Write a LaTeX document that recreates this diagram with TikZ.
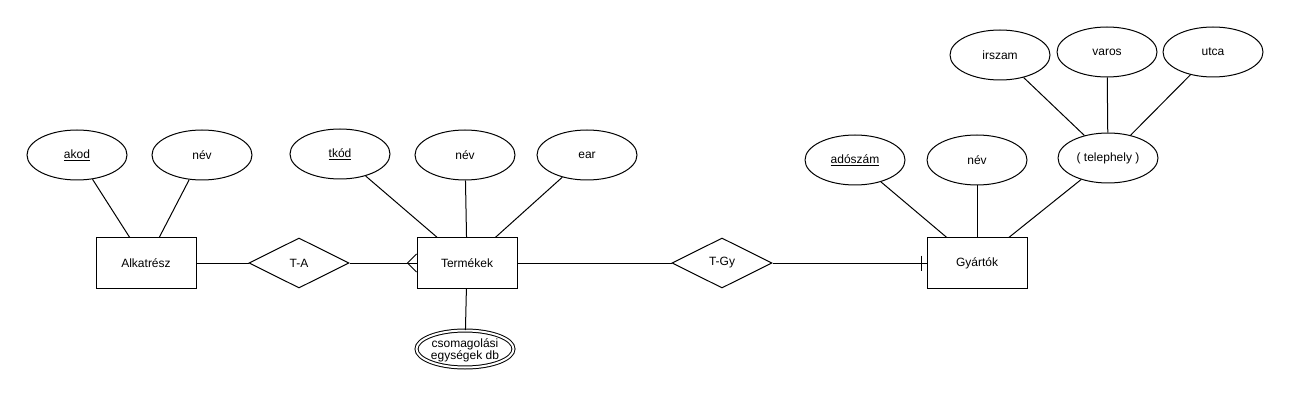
\documentclass[tikz,border=0pt]{standalone}
\usepackage{fontspec}
\setmainfont{Liberation Sans}
\usepackage{tikz}
\usetikzlibrary{calc}
\usetikzlibrary{shapes}
\tikzstyle{every node}=[font=\fontsize{12}{14}\selectfont]
\tikzstyle{ent}=[draw,rectangle,minimum width=100pt,minimum height=50pt,inner sep=0pt]
\tikzstyle{rel}=[draw,diamond,shape aspect=2,minimum width=100pt,minimum height=50pt,inner sep=0pt]
\tikzstyle{attr}=[draw,ellipse,minimum width=100pt,minimum height=50pt,inner sep=0pt]
\tikzstyle{mattr}=[draw,ellipse,double,double distance=2pt,minimum width=97pt,minimum height=37pt,inner sep=-3pt,align=center,text depth=0pt,font=\fontsize{12}{12.5}\selectfont]

\begin{document}
\begin{tikzpicture}[x=1pt,y=-1pt,line width=1pt]
	\useasboundingbox (0,0) rectangle (1289,403);
	\node[ent] (alk) at (146,263) {Alkatrész};
	\node[ent] (ter) at (467,263) {Termékek};
	\node[ent] (gy) at (977,263) {Gyártók};
	\node[rel] (ta) at (299,263) {T-A};
	\node[rel] (tgy) at (722,263) {T-Gy};
		\node[attr] (akod) at (77,155) {\underline{akod}};
		\node[attr] (anev) at (202,155) {név};
		\node[attr] (tkod) at (340,154) {\underline{tkód}};
		\node[attr] (tnev) at (465,155) {név};
		\node[attr] (ear) at (587,155) {ear};
		\node[mattr] (csom) at (465,349) {csomagolási\\egységek db};
		\node[attr] (adosz) at (855,160) {\underline{adószám}};
		\node[attr] (gnev) at (977,160) {név};
		\node[attr] (tel) at (1108,158) {( telephely )};
		\node[attr] (irsz) at (1000,55) {irszam};
		\node[attr] (var) at (1107,52) {varos};
		\node[attr] (utca) at (1213,52) {utca};
	\path
		(akod)	edge	(alk)
		(anev)	edge	(alk)
		(tkod)	edge	(ter)
		(tnev)	edge	(ter)
		(ear)	edge	(ter)
		(ter)	edge	(csom)
		(adosz)	edge	(gy)
		(gnev)	edge	(gy)
		(tel)	edge	(gy)
		(irsz)	edge	(tel)
		(var)	edge	(tel)
		(utca)	edge	(tel)
		(alk)	edge	(ta)
		(ta)	edge	(ter)
		(ter)	edge	(tgy)
		(tgy)	edge	(gy);
	% many / one ends
	\draw ($(ter.west)+(0,-9)$) -- ($(ter.west)+(-9,0)$) -- ($(ter.west)+(0,9)$);
	\draw ($(gy.west)+(-5,-7.5)$) -- ($(gy.west)+(-5,7.5)$);
\end{tikzpicture}
\end{document}
